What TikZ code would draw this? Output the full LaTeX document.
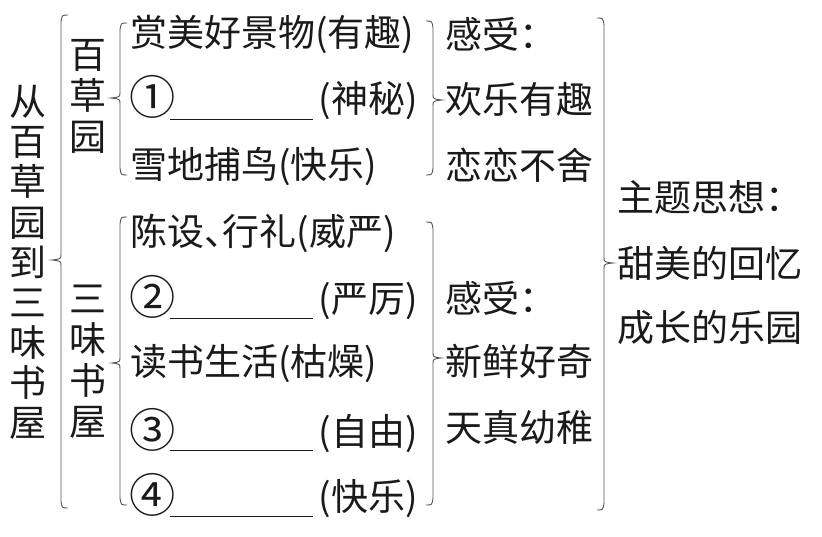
\documentclass[tikz,border=0pt]{standalone}
\usepackage{fontspec}
\newfontfamily\cjk{Noto Sans CJK SC}
\definecolor{ink}{HTML}{1A1A1A}
\definecolor{brc}{HTML}{555555}
\newcommand{\brL}[5]{\draw[bracel] (#1+7,#2) .. controls (#1+1,#2) .. (#1,#2+7) -- (#1,#5-6) .. controls (#1,#5-1) .. (#4,#5) .. controls (#1,#5+1) .. (#1,#5+6) -- (#1,#3-7) .. controls (#1+1,#3) .. (#1+7,#3);}
\newcommand{\brR}[5]{\draw[bracel] (#1-7,#2) .. controls (#1-1,#2) .. (#1,#2+7) -- (#1,#5-6) .. controls (#1,#5-1) .. (#4,#5) .. controls (#1,#5+1) .. (#1,#5+6) -- (#1,#3-7) .. controls (#1-1,#3) .. (#1-7,#3);}
\newcommand{\cnum}[1]{\raisebox{-2pt}{\scalebox{1.25}{#1}}}
\begin{document}
\begin{tikzpicture}[x=1pt,y=-1pt,
  txt/.style={font=\fontsize{37}{41}\cjk, text=ink, inner sep=0pt, anchor=west, text height=32pt, text depth=4.5pt},
  rtxt/.style={txt, anchor=east},
  vtxt/.style={font=\fontsize{37}{41}\cjk, text=ink, inner sep=0pt, align=center},
  vtxtb/.style={font=\fontsize{37}{40.1}\cjk, text=ink, inner sep=0pt, align=center},
  bracel/.style={draw=brc, line width=0.9pt},
  blank/.style={draw=ink, line width=1pt}]
\useasboundingbox[fill=white] (0,0) rectangle (822,536);

% vertical titles
\node[vtxtb] (v0) at (28,262.5) {从\\百\\草\\园\\到\\三\\味\\书\\屋};
\node[vtxt] (v1) at (88,96) {百\\草\\园};
\node[vtxt] (v2) at (88,361.5) {三\\味\\书\\屋};

% braces
\brL{61}{15}{508}{52}{260}
\brL{120}{23}{175}{111}{98}
\brL{120}{217}{505}{112}{363}
\brR{433}{21}{175}{442}{100}
\brR{433}{222}{505}{441}{358}
\brR{604}{18}{510}{613}{263}

% items: 百草园
\node[txt] (r1) at (130,33) {赏美好景物(有趣)};
\node[txt] (c1) at (129,99) {\cnum{①}};
\node[rtxt] (p1) at (418,99) {(神秘)};
\coordinate (u1a) at (170,119); \coordinate (u1b) at (313,119);
\draw[blank] (u1a) -- (u1b);
\node[txt] (r3) at (130,165) {雪地捕鸟(快乐)};

% items: 三味书屋
\node[txt] (r4) at (130,232) {陈设、\kern-0.5em 行礼(威严)};
\node[txt] (c2) at (129,299) {\cnum{②}};
\node[rtxt] (p2) at (418,299) {(严厉)};
\coordinate (u2a) at (170,318); \coordinate (u2b) at (313,318);
\draw[blank] (u2a) -- (u2b);
\node[txt] (r6) at (130,362) {读书生活(枯燥)};
\node[txt] (c3) at (129,432) {\cnum{③}};
\node[rtxt] (p3) at (418,432) {(自由)};
\coordinate (u3a) at (170,450); \coordinate (u3b) at (313,450);
\draw[blank] (u3a) -- (u3b);
\node[txt] (c4) at (129,497) {\cnum{④}};
\node[rtxt] (p4) at (418,497) {(快乐)};
\coordinate (u4a) at (170,516); \coordinate (u4b) at (313,516);
\draw[blank] (u4a) -- (u4b);

% feelings
\node[txt] (f1) at (445,35) {感受：};
\node[txt] (f2) at (445,100) {欢乐有趣};
\node[txt] (f3) at (445,166) {恋恋不舍};
\node[txt] (f4) at (445,299) {感受：};
\node[txt] (f5) at (445,362) {新鲜好奇};
\node[txt] (f6) at (445,428) {天真幼稚};

% theme
\node[txt] (t1) at (617,198) {主题思想：};
\node[txt] (t2) at (617,264) {甜美的回忆};
\node[txt] (t3) at (617,328) {成长的乐园};
\end{tikzpicture}
\end{document}
